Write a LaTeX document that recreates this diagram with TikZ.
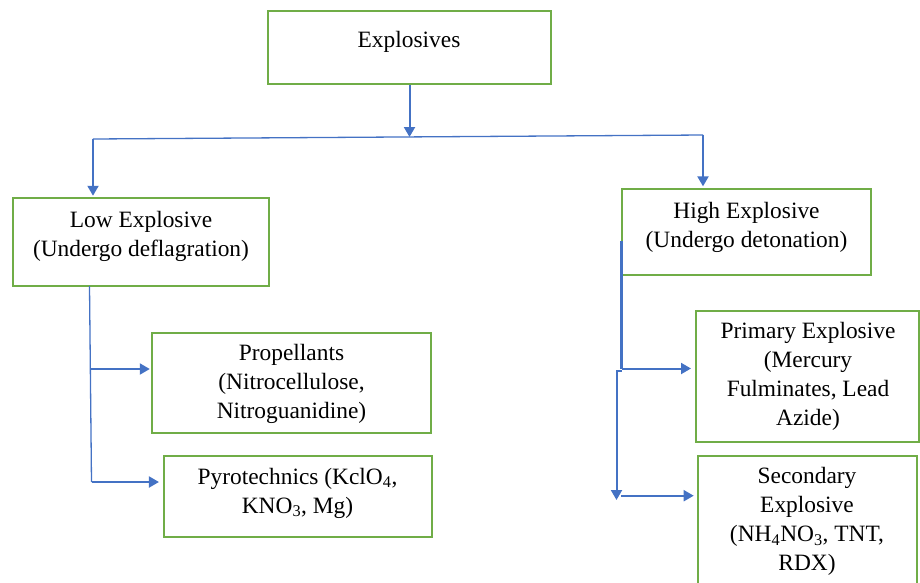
\documentclass[tikz,border=0pt]{standalone}
\usepackage{fontspec}
\setmainfont{Liberation Serif}
\usetikzlibrary{arrows.meta}
\definecolor{boxgreen}{HTML}{70AD47}
\definecolor{linkblue}{HTML}{4472C4}
\begin{document}
\begin{tikzpicture}[x=1pt,y=-1pt,
  box/.style={draw=boxgreen, line width=2pt, rectangle, inner sep=0pt},
  txt/.style={align=center, font=\fontsize{23.4}{28.8}\selectfont, inner sep=0pt},
  link/.style={draw=linkblue, line width=2pt},
  arr/.style={link, -{Triangle[width=11pt,length=10pt]}}]
\clip (0,0) rectangle (920,582);
% boxes
\node[box, minimum width=283pt, minimum height=73pt] (ex) at (409.5,47.5) {};
\node[txt] (exT) at (409,41.5) {Explosives};
\node[box, minimum width=256pt, minimum height=87.5pt] (low) at (141.3,242) {};
\node[txt] (lowT) at (141,236) {Low Explosive\\(Undergo deflagration)};
\node[box, minimum width=248.7pt, minimum height=85.7pt] (high) at (746.7,232.2) {};
\node[txt] (highT) at (746.5,227) {High Explosive\\(Undergo detonation)};
\node[box, minimum width=278.4pt, minimum height=100.6pt] (prop) at (291.5,383) {};
\node[txt] (propT) at (291.5,384) {Propellants\\(Nitrocellulose,\\Nitroguanidine)};
\node[box, minimum width=267.7pt, minimum height=81pt] (pyro) at (297.8,496.2) {};
\node[txt] (pyroT) at (297.5,493) {Pyrotechnics (KclO\textsubscript{4},\\KNO\textsubscript{3}, Mg)};
\node[box, minimum width=223pt, minimum height=131pt] (prim) at (807.5,376.2) {};
\node[txt] (primT) at (808,376.5) {Primary Explosive\\(Mercury\\Fulminates, Lead\\Azide)};
\node[box, minimum width=219pt, minimum height=144pt] (sec) at (807.2,528) {};
\node[txt] (secT) at (807,521.5) {Secondary\\Explosive\\(NH\textsubscript{4}NO\textsubscript{3}, TNT,\\RDX)};
% top connectors
\coordinate (jt) at (409.5,137);
\draw[arr] (ex.south) -- (jt);
\coordinate (jl) at (93,139);
\coordinate (jr) at (703,135);
\draw[link, line width=1.3pt] (jl) -- (jr);
\draw[arr, shorten >=1.5pt] (jl) -- (jl |- low.north);
\draw[arr, shorten >=2pt] (jr) -- (jr |- high.north);
% left tree
\coordinate (l0) at (89.5,286);
\coordinate (l1) at (90.5,369);
\coordinate (l2) at (91.5,482);
\draw[link, line width=1.3pt] (l0) -- (l2);
\draw[arr, shorten >=1.5pt] (l1) -- (l1 -| prop.west);
\draw[arr, shorten >=4pt] (l2) -- (l2 -| pyro.west);
% right tree
\coordinate (r0) at (621.5,240.5);
\coordinate (r1) at (621.5,368.5);
\draw[link, line width=2.4pt] (r0) -- (r1);
\draw[arr, shorten >=4pt] (r1) -- (r1 -| prim.west);
\coordinate (r2) at (621.5,371);
\coordinate (r3) at (616.5,371);
\coordinate (r4) at (616.5,500);
\draw[arr] (r2) -- (r3) -- (r4);
\coordinate (r5) at (621,495.7);
\draw[arr, shorten >=3pt] (r5) -- (r5 -| sec.west);
\end{tikzpicture}
\end{document}
